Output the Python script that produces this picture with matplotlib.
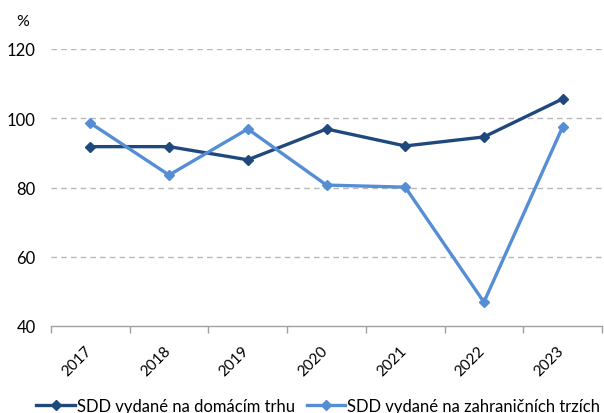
import matplotlib.pyplot as plt
import matplotlib.transforms as mtransforms
import numpy as np

years = ["2017", "2018", "2019", "2020", "2021", "2022", "2023"]
domestic = [91.8, 91.8, 88.0, 96.9, 92.0, 94.6, 105.6]
foreign = [98.6, 83.6, 96.9, 80.7, 80.1, 46.9, 97.5]
label_domestic = "SDD vydané na domácím trhu"
label_foreign = "SDD vydané na zahraničních trzích"
yticks = [40, 60, 80, 100, 120]

dark = "#1F497D"
light = "#558ED5"

plt.rcParams['font.family'] = ['Lato', 'DejaVu Sans']

fig = plt.figure(figsize=(6.04, 4.14), dpi=100)
ax = fig.add_axes([51 / 604, 1 - 327 / 414, (602 - 51) / 604, (327 - 50) / 414])

x = np.arange(len(years))
ax.plot(x, domestic, color=dark, lw=2.4, marker="D", ms=5.5, label=label_domestic, zorder=3)
ax.plot(x, foreign, color=light, lw=2.4, marker="D", ms=5.5, label=label_foreign, zorder=3)

ax.set_xlim(-0.5, len(years) - 0.5)
ax.set_ylim(40, 120)
ax.set_yticks(yticks)
ax.set_yticklabels([str(v) for v in yticks], fontsize=12)
ax.tick_params(axis="y", length=0, pad=11)

ax.set_xticks(x)
ax.set_xticklabels(years, rotation=45, ha="right", fontsize=11)
ax.set_xticks(np.arange(len(years) + 1) - 0.5, minor=True)
ax.tick_params(axis="x", which="major", length=0, pad=12)
ax.tick_params(axis="x", which="minor", length=5, color="#A0A0A0", width=1)

# nudge the rotated year labels so their ends sit just right of each category centre
shift = mtransforms.ScaledTranslation(4 / 100, 0, fig.dpi_scale_trans)
for lbl in ax.get_xticklabels():
    lbl.set_transform(lbl.get_transform() + shift)

for v in yticks[1:]:
    ax.axhline(v, color="#B8B8B8", lw=1, ls=(0, (4, 3)), zorder=1)

for s in ["top", "right", "left"]:
    ax.spines[s].set_visible(False)
ax.spines["bottom"].set_color("#A0A0A0")
ax.spines["bottom"].set_linewidth(1)

fig.text(23 / 604, 1 - 22 / 414, "%", fontsize=11.5, ha="center", va="center")

fig.legend(loc="center", bbox_to_anchor=(0.527, 1 - 407 / 414), ncol=2, frameon=False,
           fontsize=12, handlelength=2.3, handletextpad=0.12, columnspacing=0.72)

fig.savefig("out.png", dpi=100)
